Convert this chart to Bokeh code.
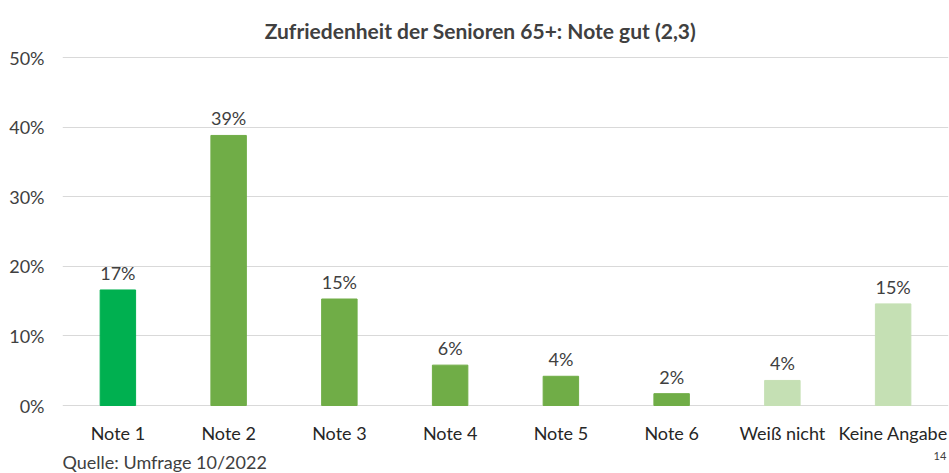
from bokeh.plotting import figure
from bokeh.models import ColumnDataSource, NumeralTickFormatter, FixedTicker, Label
from bokeh.core.properties import value
from bokeh.embed import file_html
from bokeh.resources import INLINE

categories = ["Note 1", "Note 2", "Note 3", "Note 4", "Note 5", "Note 6", "Weiß nicht", "Keine Angabe"]
shares = [0.166, 0.388, 0.153, 0.058, 0.042, 0.017, 0.036, 0.146]
colors = ["#00B050", "#70AD47", "#70AD47", "#70AD47", "#70AD47", "#70AD47", "#C5E0B4", "#C5E0B4"]
y_ticks = [0.0, 0.1, 0.2, 0.3, 0.4, 0.5]
title_text = "Zufriedenheit der Senioren 65+: Note gut (2,3)"
source_text = "Quelle: Umfrage 10/2022"
page_number = "14"

FONT = "Lato"
TXT = "#404040"

# pixel scale of the value axis (0% .. 50% over 348 px) -> frame extended to full canvas height
PX = 696.0
Y_START = -(473 - 405) / PX
Y_END = 0.5 + 57 / PX

labels = [f"{round(v * 100):d}%" for v in shares]
src = ColumnDataSource(dict(cat=categories, val=shares, color=colors, lab=labels))
cat_src = ColumnDataSource(dict(cat=categories, y=[-27 / PX] * len(categories)))

p = figure(x_range=categories, y_range=(Y_START, Y_END), width=949, height=473,
           output_backend="svg", toolbar_location=None,
           min_border_left=62, min_border_right=1, min_border_top=0, min_border_bottom=0)
p.outline_line_color = None
p.background_fill_color = "white"
p.border_fill_color = "white"

p.vbar(x="cat", top="val", width=0.32, color="color", source=src)
p.text(x="cat", y="val", text="lab", source=src, text_align="center", text_baseline="bottom",
       y_offset=-6, text_font=value(FONT), text_font_size="18px", text_color=TXT)

# category labels below the baseline
p.text(x="cat", y="y", text="cat", source=cat_src, text_align="center", text_baseline="middle",
       text_font=value(FONT), text_font_size="18px", text_color="#262626")

p.yaxis.ticker = FixedTicker(ticks=y_ticks)
p.yaxis.formatter = NumeralTickFormatter(format="0%")
p.yaxis.axis_line_color = None
p.yaxis.major_tick_line_color = None
p.yaxis.minor_tick_line_color = None
p.yaxis.major_label_text_font = FONT
p.yaxis.major_label_text_font_size = "18px"
p.yaxis.major_label_text_color = TXT
p.yaxis.major_label_standoff = 12

p.xaxis.visible = False

p.xgrid.grid_line_color = None
p.ygrid.grid_line_color = "#D9D9D9"
p.ygrid.grid_line_width = 1

p.add_layout(Label(x=3.774, y=(405 - 30) / PX, text=title_text, text_font=FONT, text_font_style="bold",
                   text_font_size="21px", text_color=TXT, text_align="center", text_baseline="middle"))
p.add_layout(Label(x=0.0, y=-(461 - 405) / PX, text=source_text, text_font=FONT,
                   text_font_size="18px", text_color=TXT, text_baseline="middle"))
p.add_layout(Label(x=7.865, y=-(455 - 405) / PX, text=page_number, text_font=FONT,
                   text_font_size="11px", text_color=TXT, text_baseline="middle"))

open("out.html", "w").write(file_html(p, INLINE))
